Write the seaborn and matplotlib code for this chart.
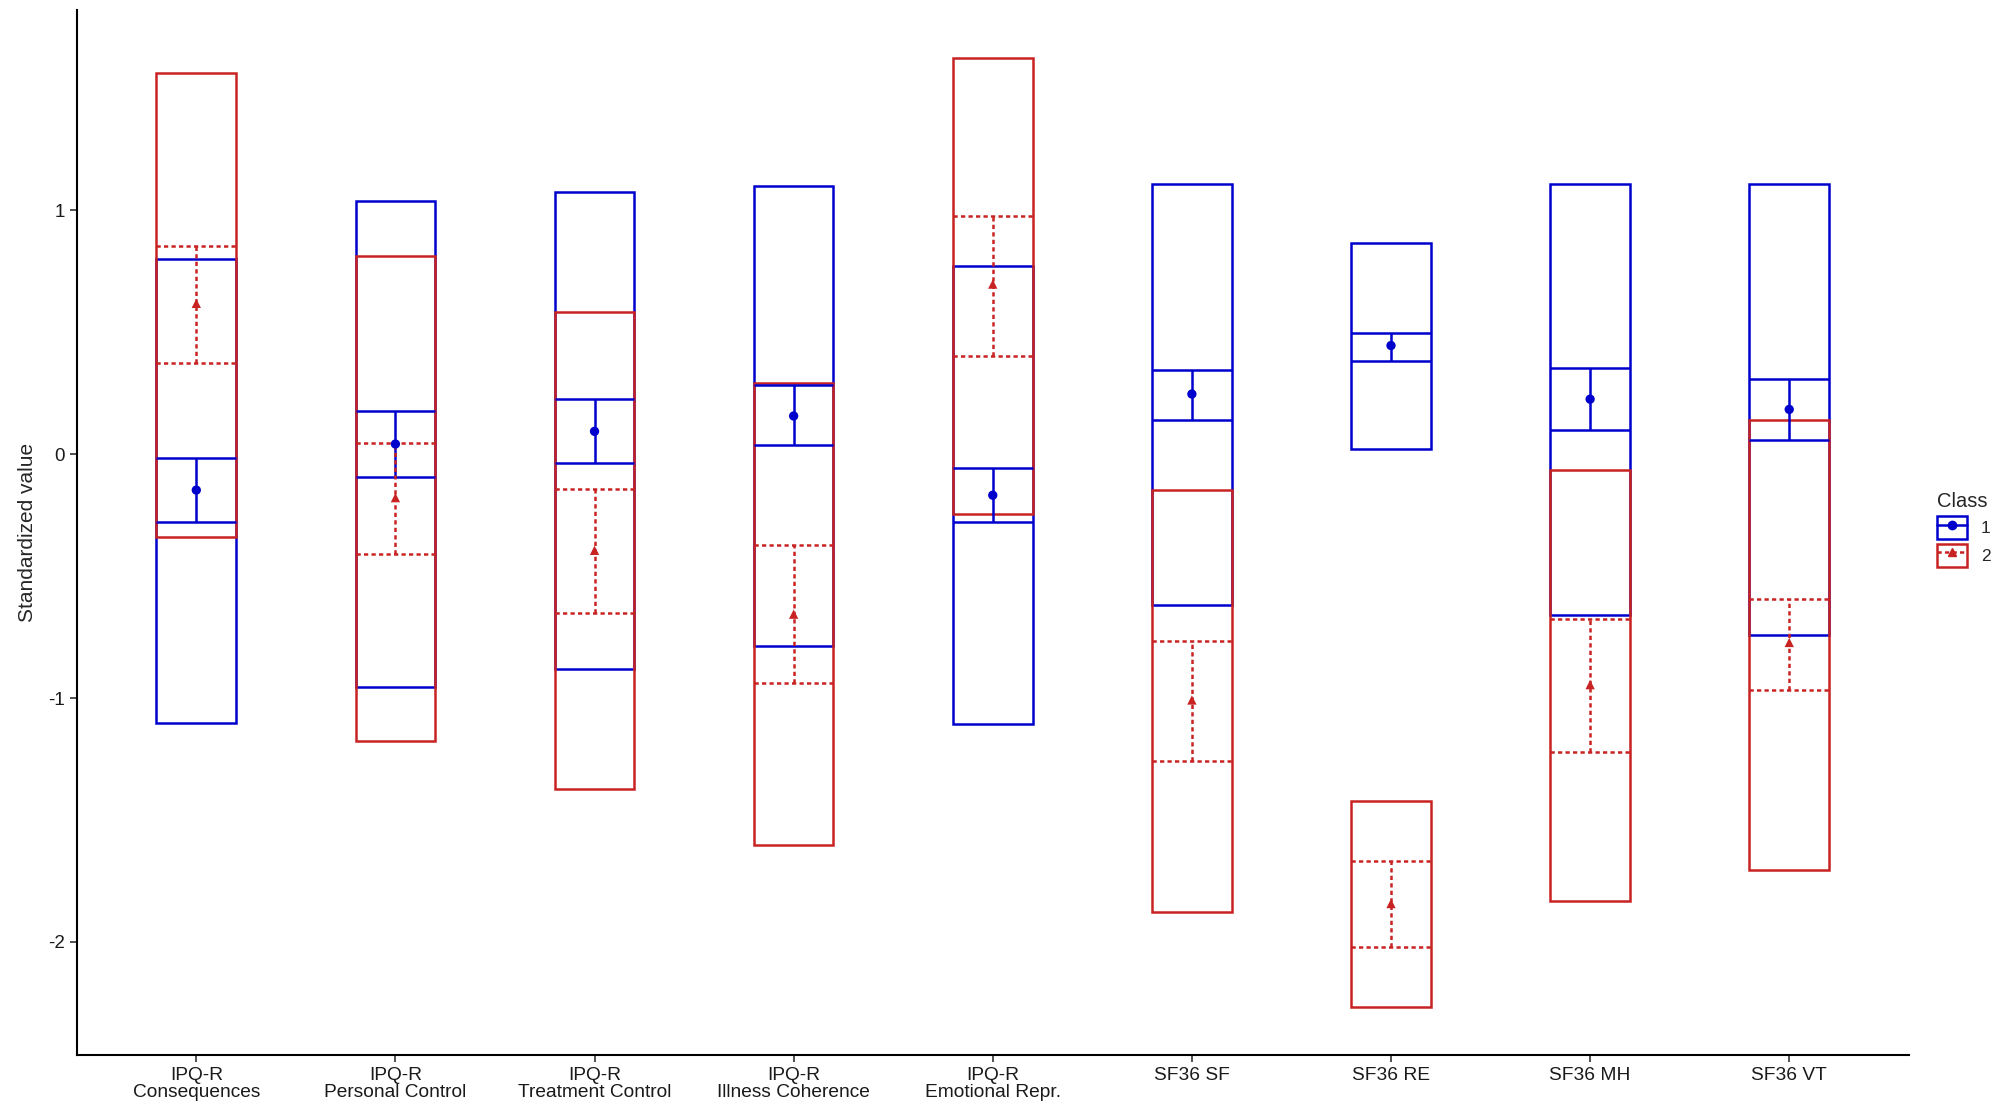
import numpy as np
import pandas as pd
import matplotlib
matplotlib.use("Agg")
import matplotlib.pyplot as plt
import seaborn as sns
from matplotlib.patches import Rectangle
from matplotlib.lines import Line2D

# variables on the x axis
labels = ["IPQ-R\nConsequences", "IPQ-R\nPersonal Control", "IPQ-R\nTreatment Control",
          "IPQ-R\nIllness Coherence", "IPQ-R\nEmotional Repr.", "SF36 SF", "SF36 RE",
          "SF36 MH", "SF36 VT"]

# class 1 (blue)
c1_mean = [-0.147, 0.042, 0.094, 0.157, -0.168, 0.247, 0.446, 0.226, 0.184]
c1_ci_lo = [-0.278, -0.094, -0.037, 0.037, -0.278, 0.142, 0.383, 0.100, 0.058]
c1_ci_hi = [-0.016, 0.178, 0.226, 0.283, -0.058, 0.346, 0.499, 0.352, 0.310]
c1_box_lo = [-1.102, -0.955, -0.882, -0.787, -1.108, -0.619, 0.021, -0.661, -0.740]
c1_box_hi = [0.801, 1.039, 1.076, 1.102, 0.772, 1.108, 0.866, 1.108, 1.108]

# class 2 (red)
c2_mean = [0.619, -0.178, -0.394, -0.656, 0.698, -1.008, -1.843, -0.945, -0.772]
c2_ci_lo = [0.373, -0.409, -0.651, -0.940, 0.404, -1.260, -2.021, -1.223, -0.966]
c2_ci_hi = [0.856, 0.047, -0.142, -0.373, 0.976, -0.766, -1.669, -0.677, -0.593]
c2_box_lo = [-0.341, -1.176, -1.375, -1.601, -0.247, -1.879, -2.268, -1.832, -1.706]
c2_box_hi = [1.564, 0.814, 0.583, 0.294, 1.627, -0.147, -1.423, -0.063, 0.142]

classes = ["1", "2"]
colors = {"1": "#0000CD", "2": "#C82222"}
markers = {"1": "o", "2": "^"}
dashes = {"1": "-", "2": (0, (1.7, 1.3))}

sns.set_theme(style="ticks")
plt.rcParams["font.family"] = ["Liberation Sans", "DejaVu Sans"]

fig = plt.figure(figsize=(20.06, 11.2), dpi=100)
ax = fig.add_axes([0.0383, 0.0583, 0.9132, 0.9327])

x = np.arange(len(labels))
half = 0.2
lw = 1.8

boxes = {"1": (c1_box_lo, c1_box_hi), "2": (c2_box_lo, c2_box_hi)}
cis = {"1": (c1_ci_lo, c1_ci_hi), "2": (c2_ci_lo, c2_ci_hi)}
means = {"1": c1_mean, "2": c2_mean}

for cl in classes:
    lo, hi = boxes[cl]
    for i in range(len(labels)):
        ax.add_patch(Rectangle((x[i] - half, lo[i]), 2 * half, hi[i] - lo[i],
                               fill=False, edgecolor=colors[cl], linewidth=lw, zorder=2))

for cl in classes:
    lo, hi = cis[cl]
    ax.hlines(lo, x - half, x + half, colors=colors[cl], linestyles=[dashes[cl]], linewidth=lw, zorder=3)
    ax.hlines(hi, x - half, x + half, colors=colors[cl], linestyles=[dashes[cl]], linewidth=lw, zorder=3)
    ax.vlines(x, lo, hi, colors=colors[cl], linestyles=[dashes[cl]], linewidth=lw, zorder=3)

df = pd.DataFrame({
    "x": np.concatenate([x, x]),
    "value": c1_mean + c2_mean,
    "Class": ["1"] * len(labels) + ["2"] * len(labels),
})
sns.scatterplot(data=df, x="x", y="value", hue="Class", style="Class", palette=colors,
                markers=markers, s=45, edgecolor="none", legend=False, ax=ax, zorder=4)

ax.set_xlim(-0.6, len(labels) - 0.4)
ax.set_ylim(-2.463, 1.822)
ax.set_xticks(x)
ax.set_xticklabels(labels, fontsize=13.8, linespacing=1.0)
ax.set_yticks([-2, -1, 0, 1])
ax.set_yticklabels(["-2", "-1", "0", "1"], fontsize=13.5)
ax.tick_params(axis="both", colors="#333333", length=5, width=1.2, labelcolor="#1a1a1a")
ax.set_xlabel("")
ax.set_ylabel("Standardized value", fontsize=15, labelpad=8)
for s in ["top", "right"]:
    ax.spines[s].set_visible(False)
for s in ["left", "bottom"]:
    ax.spines[s].set_color("black")
    ax.spines[s].set_linewidth(1.5)

handles = []
for cl in classes:
    box = Rectangle((0, 0), 1, 1, facecolor="white", edgecolor=colors[cl], linewidth=lw)
    ln = Line2D([], [], color=colors[cl], linestyle=dashes[cl], linewidth=lw,
                marker=markers[cl], markersize=6)
    handles.append((box, ln))
leg = fig.legend(handles, classes, title="Class", loc="center left",
                 bbox_to_anchor=(0.958, 0.527), frameon=False, fontsize=12.5,
                 title_fontsize=14.5, handlelength=1.7, handleheight=1.7,
                 handletextpad=0.8, labelspacing=0.25)
leg._legend_box.align = "left"

fig.savefig("out.png", dpi=100)
